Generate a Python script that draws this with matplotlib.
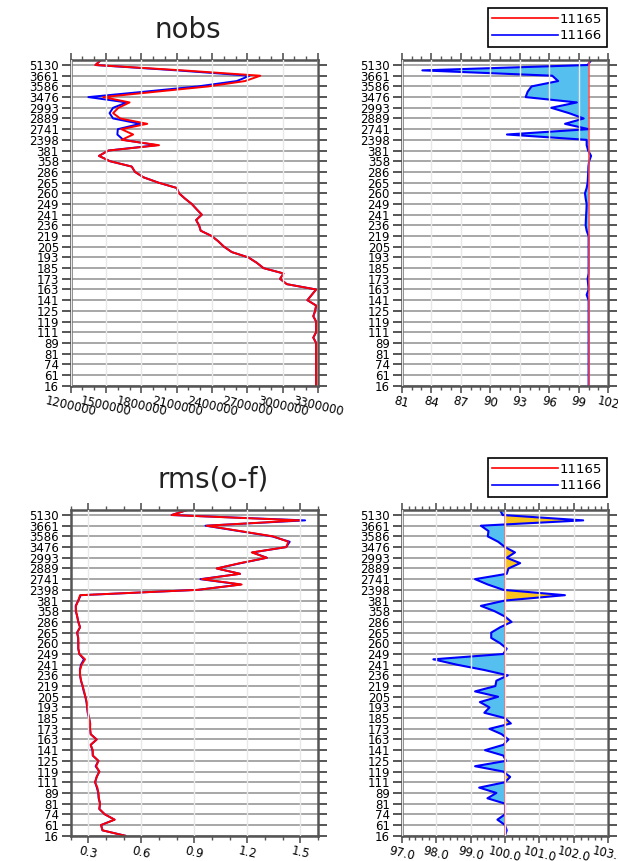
import matplotlib.pyplot as plt
import numpy as np
from matplotlib.lines import Line2D
from matplotlib.ticker import MultipleLocator

# channel labels, bottom to top (one label per row, data every half row)
CHANNELS = ["16", "61", "74", "81", "89", "111", "119", "125", "141", "163",
            "173", "185", "193", "205", "219", "236", "241", "249", "260", "265",
            "286", "358", "381", "2398", "2741", "2889", "2993", "3476", "3586",
            "3661", "5130"]

SERIES = ("11165", "11166")

# number of observations, rows 0 .. 30.5 in half-row steps
nobs_11165 = [
    3284000, 3284000, 3284000, 3284000, 3284000, 3284000, 3284000, 3284000,
    3284000, 3260000, 3284000, 3284000, 3284000, 3260000, 3276000, 3284000,
    3210000, 3247000, 3284000, 3035000, 2978000, 3007000, 2837000, 2780000,
    2709000, 2568000, 2502000, 2454000, 2398000, 2304000, 2290000, 2265000,
    2313000, 2270000, 2228000, 2171000, 2120000, 2100000, 1944000, 1817000,
    1746000, 1718000, 1534000, 1440000, 1520000, 1950000, 1633000, 1730000,
    1630000, 1850000, 1620000, 1560000, 1605000, 1700000, 1477000, 1920000,
    2370000, 2680000, 2810000, 2150000, 1410000, 1460000,
]
nobs_11166 = [
    3284000, 3284000, 3284000, 3284000, 3284000, 3284000, 3284000, 3284000,
    3284000, 3260000, 3284000, 3284000, 3284000, 3260000, 3276000, 3284000,
    3210000, 3247000, 3284000, 3035000, 2978000, 3007000, 2837000, 2780000,
    2709000, 2568000, 2502000, 2454000, 2398000, 2304000, 2290000, 2265000,
    2313000, 2270000, 2228000, 2171000, 2120000, 2100000, 1944000, 1817000,
    1746000, 1718000, 1534000, 1440000, 1520000, 1930000, 1647000, 1596000,
    1600000, 1790000, 1560000, 1530000, 1560000, 1676000, 1350000, 1820000,
    2280000, 2610000, 2720000, 2100000, 1410000, 1460000,
]
# 11166 relative to 11165 (%)
nobs_pct = [
    100.0, 100.0, 100.0, 100.0, 100.0, 100.0, 100.0, 100.0,
    100.0, 100.0, 100.0, 100.0, 100.0, 100.0, 100.0, 100.0,
    100.0, 99.8, 100.0, 99.95, 99.9, 100.0, 100.0, 100.0,
    100.0, 100.0, 100.0, 100.0, 100.0, 99.8, 99.7, 99.72,
    99.75, 99.78, 99.8, 99.7, 99.63, 99.8, 99.9, 99.93,
    99.96, 99.98, 100.05, 100.25, 99.95, 99.8, 99.8, 91.7,
    100.0, 97.6, 99.5, 98.0, 96.2, 98.8, 93.6, 93.8,
    94.2, 96.9, 96.3, 83.1, 99.9, 100.3,
]

rms_11165 = [
    0.508, 0.380, 0.372, 0.449, 0.393, 0.362, 0.366, 0.360,
    0.357, 0.351, 0.338, 0.347, 0.362, 0.344, 0.357, 0.325,
    0.325, 0.313, 0.347, 0.313, 0.310, 0.310, 0.304, 0.298,
    0.294, 0.291, 0.283, 0.276, 0.268, 0.259, 0.253, 0.253,
    0.262, 0.281, 0.249, 0.243, 0.243, 0.243, 0.237, 0.253,
    0.243, 0.237, 0.230, 0.230, 0.243, 0.253, 0.920, 1.168,
    0.942, 1.159, 1.026, 1.159, 1.310, 1.225, 1.420, 1.432,
    1.347, 1.159, 0.970, 1.498, 0.772, 0.866,
]
rms_11166 = [
    0.508, 0.380, 0.372, 0.448, 0.393, 0.362, 0.366, 0.358,
    0.356, 0.348, 0.338, 0.347, 0.362, 0.341, 0.357, 0.325,
    0.323, 0.313, 0.347, 0.313, 0.309, 0.310, 0.304, 0.296,
    0.293, 0.289, 0.283, 0.274, 0.267, 0.258, 0.253, 0.252,
    0.258, 0.275, 0.249, 0.243, 0.243, 0.242, 0.236, 0.253,
    0.243, 0.237, 0.229, 0.228, 0.243, 0.257, 0.920, 1.162,
    0.934, 1.159, 1.027, 1.164, 1.311, 1.229, 1.420, 1.440,
    1.340, 1.153, 0.963, 1.527, 0.771, 0.865,
]
rms_pct = [
    100.0, 100.05, 100.0, 99.78, 100.0, 100.0, 100.0, 99.49,
    99.75, 99.25, 100.0, 100.15, 99.95, 99.13, 100.03, 99.95,
    99.42, 99.95, 100.1, 99.9, 99.55, 100.17, 100.0, 99.4,
    99.55, 99.27, 99.8, 99.13, 99.72, 99.75, 100.08, 99.4,
    98.6, 97.92, 99.95, 100.05, 99.86, 99.6, 99.6, 99.86,
    100.19, 100.0, 99.7, 99.3, 100.0, 101.74, 99.95, 99.5,
    99.13, 100.05, 100.1, 100.44, 100.05, 100.29, 100.0, 99.8,
    99.5, 99.52, 99.3, 102.27, 99.93, 99.85,
]

nobs_ticks = [1200000, 1500000, 1800000, 2100000, 2400000, 2700000, 3000000, 3300000]
rms_ticks = [0.3, 0.6, 0.9, 1.2, 1.5]
nobs_pct_ticks = [81, 84, 87, 90, 93, 96, 99, 102]
rms_pct_ticks = [97.0, 98.0, 99.0, 100.0, 101.0, 102.0, 103.0]

RED = "#ff0000"
BLUE = "#0000ff"
SPINE = "#555555"
W, H = 618, 861


def rows_for(values):
    return np.arange(len(values)) * 0.5


def style_axes(ax, xlim, ticks, labels, minor):
    ax.set_xlim(*xlim)
    ax.set_ylim(0, 30.47)
    ax.set_yticks(range(len(CHANNELS)), CHANNELS)
    ax.set_xticks(ticks, labels)
    ax.xaxis.set_minor_locator(MultipleLocator(minor))
    ax.tick_params(axis="y", which="both", left=True, right=True, direction="out",
                   length=6.5, width=1.4, color=SPINE, labelsize=8.5, pad=2)
    ax.tick_params(axis="x", which="major", top=True, bottom=True, direction="out",
                   length=5, width=1.2, color=SPINE, labelsize=8.5, pad=1.5)
    ax.tick_params(axis="x", which="minor", top=True, bottom=True, direction="out",
                   length=3, width=1.0, color=SPINE)
    for label in ax.get_xticklabels():
        label.set_rotation(-13)
        label.set_ha("center")
    for spine in ax.spines.values():
        spine.set_color(SPINE)
        spine.set_linewidth(1.8)
    ax.set_axisbelow(True)
    ax.yaxis.grid(True, color="#a0a0a0", linewidth=1.3)
    ax.xaxis.grid(True, color="#e8e8e8", linewidth=1.0)
    # vertical grid sits over the data, as in the original plot
    ax.xaxis.set_zorder(2.5)


def add_legend(ax, top_px):
    handles = [Line2D([], [], color=RED, lw=1.2), Line2D([], [], color=BLUE, lw=1.2)]
    leg = ax.legend(handles, SERIES, loc="upper right",
                    bbox_to_anchor=(606.7 / W, 1 - top_px / H),
                    bbox_transform=ax.figure.transFigure, fontsize=9.5,
                    handlelength=5.0, handletextpad=0.1, labelspacing=0.25,
                    borderpad=0.35, borderaxespad=0, fancybox=False,
                    framealpha=1, edgecolor="black")
    leg.get_frame().set_linewidth(1.2)
    leg.set_zorder(6)


def plot_values(ax, red, blue):
    y = rows_for(red)
    ax.plot(blue, y, color=BLUE, lw=1.4, zorder=2)
    ax.plot(red, y, color=RED, lw=1.4, zorder=2.1)


def plot_ratio(ax, pct):
    y = rows_for(pct)
    pct = np.asarray(pct)
    ax.fill_betweenx(y, pct, 100, where=pct <= 100, interpolate=True,
                     color="#55c0f0", lw=0, zorder=1)
    ax.fill_betweenx(y, pct, 100, where=pct >= 100, interpolate=True,
                     color="#fac31e", lw=0, zorder=1)
    ax.plot(pct, y, color=BLUE, lw=1.5, zorder=2)
    ax.axvline(100, color="#ff4a4a", lw=1.3, alpha=0.85, zorder=2.1)


fig = plt.figure(figsize=(W / 100, H / 100), dpi=100)

left_x, left_w = 70.7 / W, 247.3 / W
right_x, right_w = 401.7 / W, 206.6 / W
ax_h = 325.7 / H
top_y = 1 - 385.7 / H
bot_y = 1 - 835.7 / H

ax1 = fig.add_axes([left_x, top_y, left_w, ax_h])
ax2 = fig.add_axes([right_x, top_y, right_w, ax_h])
ax3 = fig.add_axes([left_x, bot_y, left_w, ax_h])
ax4 = fig.add_axes([right_x, bot_y, right_w, ax_h])

plot_values(ax1, nobs_11165, nobs_11166)
style_axes(ax1, (1200000, 3300000), nobs_ticks, [str(t) for t in nobs_ticks], 100000)

plot_ratio(ax2, nobs_pct)
style_axes(ax2, (81, 102), nobs_pct_ticks, [str(t) for t in nobs_pct_ticks], 1)

plot_values(ax3, rms_11165, rms_11166)
style_axes(ax3, (0.2, 1.6), rms_ticks, [f"{t:.1f}" for t in rms_ticks], 0.1)

plot_ratio(ax4, rms_pct)
style_axes(ax4, (97, 103), rms_pct_ticks, [f"{t:.1f}" for t in rms_pct_ticks], 0.2)

ax1.text(0.34, 1.069, "nobs", transform=ax1.transAxes, fontsize=20,
         ha="left", va="baseline", color="#222222")
ax3.text(0.35, 1.069, "rms(o-f)", transform=ax3.transAxes, fontsize=20,
         ha="left", va="baseline", color="#222222")

add_legend(ax2, 8.3)
add_legend(ax4, 458.3)

fig.savefig("out.png", dpi=100)
